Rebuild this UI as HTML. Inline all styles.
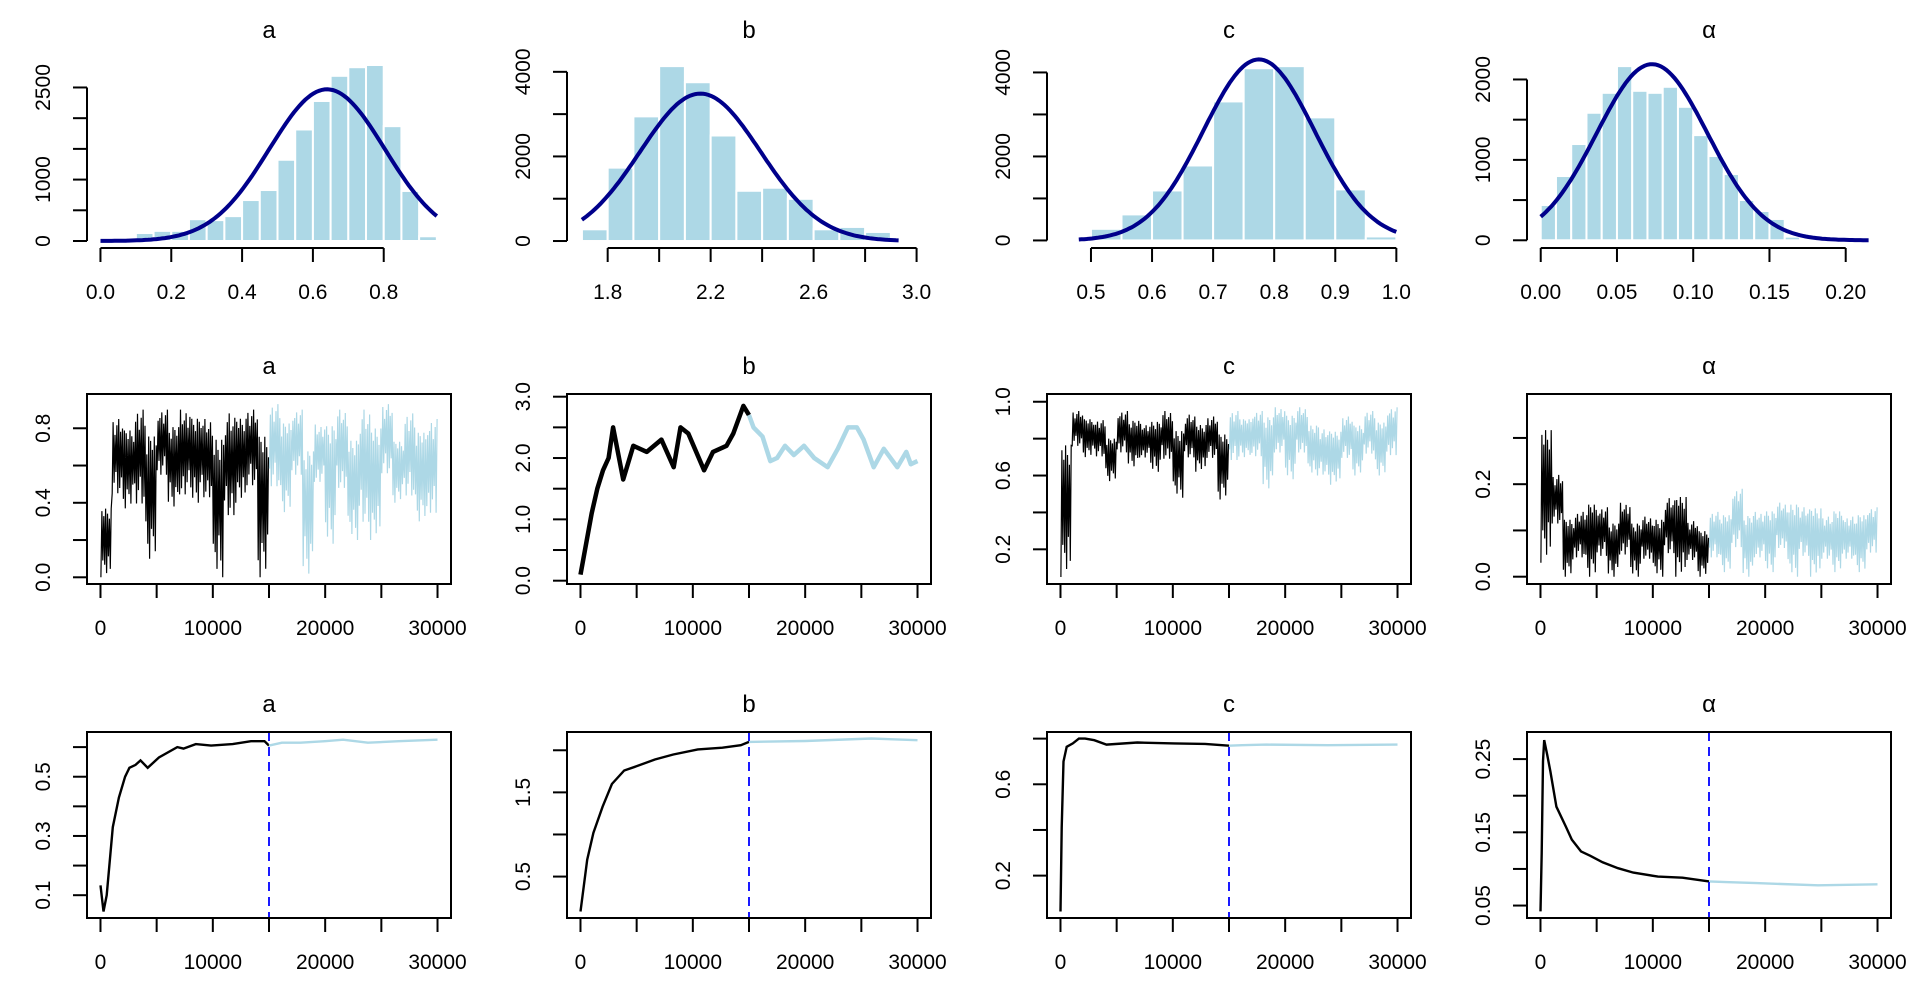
<!DOCTYPE html>
<html><head><meta charset="utf-8">
<style>
html,body{margin:0;padding:0;background:#fff;}
svg{display:block;font-family:"Liberation Sans",Arial,sans-serif;}
</style></head>
<body>
<svg id="fig" width="1920" height="1008" viewBox="0 0 1920 1008" xmlns="http://www.w3.org/2000/svg"></svg>
<script>
// ---------- Histogram data ----------
const histTitles = ["a","b","c","α"];
const histBreakStartA = 0.0, histBinA = 0.05;
const histCountsA = [20,40,130,165,165,355,340,405,667,830,1323,1816,2280,2690,2830,2866,1870,815,77];
const histBreakStartB = 1.7, histBinB = 0.1;
const histCountsB = [277,1735,2947,4135,3754,2495,1188,1260,998,277,333,214];
const histBreakStartC = 0.5, histBinC = 0.05;
const histCountsC = [277,620,1190,1785,3310,4100,4150,2930,1215,95];
const histBreakStartAl = 0.0, histBinAl = 0.01;
const histCountsAl = [439,799,1197,1586,1834,2166,1859,1834,1909,1660,1308,1048,824,501,364,265,45];
// normal curve params: [mean, sd, peak count, from, to]
const curveA = [0.64,0.163,2470,0.0,0.95];
const curveB = [2.16,0.234,3485,1.7,2.93];
const curveC = [0.775,0.091,4310,0.48,1.0];
const curveAl = [0.073,0.0364,2190,0.0,0.215];
const histXTicksA = [0,0.2,0.4,0.6,0.8], histXLabelsA = ["0.0","0.2","0.4","0.6","0.8"];
const histXTicksB = [1.8,2.0,2.2,2.4,2.6,2.8,3.0], histXLabelsB = ["1.8","","2.2","","2.6","","3.0"];
const histXTicksC = [0.5,0.6,0.7,0.8,0.9,1.0], histXLabelsC = ["0.5","0.6","0.7","0.8","0.9","1.0"];
const histXTicksAl = [0,0.05,0.1,0.15,0.2], histXLabelsAl = ["0.00","0.05","0.10","0.15","0.20"];
const histYTicksA = [0,500,1000,1500,2000,2500], histYLabelsA = ["0","","1000","","","2500"];
const histYTicksB = [0,1000,2000,3000,4000], histYLabelsB = ["0","","2000","","4000"];
const histYTicksC = [0,1000,2000,3000,4000], histYLabelsC = ["0","","2000","","4000"];
const histYTicksAl = [0,500,1000,1500,2000], histYLabelsAl = ["0","","1000","","2000"];

// ---------- Trace data (per 1000-iteration bin: low / high) ----------
const iterTicks = [0,5000,10000,15000,20000,25000,30000];
const iterLabels = ["0","","10000","","20000","","30000"];
const burnIn = 15000;
const traceLoA = [0.0,0.28,0.37,0.18,0.1,0.4,0.38,0.25,0.4,0.25,0.0,0.1,0.4,0.32,0.0, 0.3,0.35,0.4,0.02,0.38,0.18,0.3,0.2,0.04,0.2,0.4,0.4,0.25,0.3,0.13];
const traceHiA = [0.45,0.85,0.88,0.9,0.9,0.9,0.9,0.9,0.95,0.85,0.9,0.88,0.95,0.9,0.92, 0.93,0.93,0.9,0.82,0.82,0.95,0.9,0.85,0.9,0.93,0.93,0.8,0.88,0.88,0.85];
const traceIterB = [0,500,1000,1500,2000,2500,2900,3800,4700,5900,7200,8300,8900,9600,11000,11800,13000,13600,14500,15000,15400,16200,16900,17500,18200,19000,19900,20800,22000,22900,23800,24600,25200,26100,27000,28200,29000,29400,30000];
const traceValB = [0.1,0.6,1.1,1.5,1.8,2.0,2.5,1.65,2.2,2.1,2.3,1.85,2.5,2.4,1.8,2.1,2.2,2.4,2.85,2.7,2.5,2.35,1.95,2.0,2.2,2.05,2.2,2.0,1.85,2.15,2.5,2.5,2.3,1.85,2.15,1.85,2.1,1.9,1.95];
const traceLoC = [0.05,0.68,0.7,0.62,0.57,0.63,0.65,0.62,0.62,0.58,0.48,0.6,0.62,0.6,0.47, 0.57,0.7,0.6,0.53,0.62,0.58,0.62,0.6,0.5,0.55,0.6,0.6,0.62,0.6,0.6];
const traceHiC = [0.92,0.95,0.95,0.9,0.85,0.95,0.95,0.88,0.95,0.95,0.92,0.93,0.93,0.92,0.9, 0.95,0.95,0.95,1.0,0.97,1.0,0.97,0.93,0.85,0.9,0.92,0.93,0.95,0.95,0.97];
const traceLoAl = [0.03,0.07,0.0,0.0,0.0,0.0,0.0,0.0,0.0,0.0,0.0,0.0,0.0,0.0,0.0, 0.0,0.01,0.01,0.0,0.0,0.01,0.02,0.0,0.0,0.0,0.0,0.01,0.0,0.01,0.01];
const traceHiAl = [0.38,0.22,0.15,0.14,0.19,0.15,0.14,0.16,0.14,0.13,0.15,0.17,0.21,0.12,0.12, 0.14,0.16,0.19,0.16,0.14,0.17,0.16,0.19,0.15,0.18,0.13,0.17,0.13,0.16,0.15];
const traceYTicksA = [0,0.2,0.4,0.6,0.8], traceYLabelsA = ["0.0","","0.4","","0.8"];
const traceYTicksB = [0,0.5,1,1.5,2,2.5,3], traceYLabelsB = ["0.0","","1.0","","2.0","","3.0"];
const traceYTicksC = [0.2,0.4,0.6,0.8,1.0], traceYLabelsC = ["0.2","","0.6","","1.0"];
const traceYTicksAl = [0,0.1,0.2,0.3], traceYLabelsAl = ["0.0","","0.2",""];

// ---------- Running mean data ----------
const meanIterA = [0,270,550,1100,1640,2190,2570,3120,3560,4200,5200,6840,7390,8480,9850,11770,13400,14600,15000,16150,17800,19980,21600,23800,26550,30000];
const meanValA = [0.133,0.045,0.1,0.33,0.43,0.5,0.53,0.54,0.555,0.53,0.565,0.6,0.595,0.61,0.605,0.61,0.62,0.62,0.605,0.615,0.615,0.62,0.625,0.615,0.62,0.625];
const meanIterB = [0,600,1150,1970,2800,3890,4980,6620,8260,10440,12630,14270,15000,20000,25900,30000];
const meanValB = [0.085,0.7,1.02,1.33,1.6,1.76,1.81,1.89,1.95,2.01,2.03,2.06,2.1,2.11,2.14,2.12];
const meanIterC = [0,110,270,550,1100,1640,2190,3010,4100,6840,10130,12870,15000,16150,18340,23800,30000];
const meanValC = [0.043,0.41,0.7,0.764,0.779,0.8,0.8,0.793,0.774,0.783,0.779,0.777,0.769,0.771,0.774,0.771,0.774];
const meanIterAl = [0,110,220,330,600,880,1420,2250,2790,3610,4430,5530,6900,8260,10450,12640,15000,16480,19220,24700,30000];
const meanValAl = [0.042,0.122,0.247,0.276,0.256,0.233,0.185,0.158,0.14,0.124,0.118,0.109,0.101,0.095,0.0896,0.088,0.083,0.082,0.0807,0.0776,0.079];
const meanYTicksA = [0.1,0.2,0.3,0.4,0.5,0.6], meanYLabelsA = ["0.1","","0.3","","0.5",""];
const meanYTicksB = [0.5,1.0,1.5,2.0], meanYLabelsB = ["0.5","","1.5",""];
const meanYTicksC = [0.2,0.4,0.6,0.8], meanYLabelsC = ["0.2","","0.6",""];
const meanYTicksAl = [0.05,0.10,0.15,0.20,0.25], meanYLabelsAl = ["0.05","","0.15","","0.25"];

// ---------- layout ----------
const NS = "http://www.w3.org/2000/svg";
const svg = document.getElementById("fig");
const colX = [87,567,1047,1527], colW = 364;
const rowTop = [58,394,732], rowH = [190,190,186];
const LB = "#ADD8E6";
function mk(tag, attrs, parent){ const e=document.createElementNS(NS,tag); for(const k in attrs) e.setAttribute(k,attrs[k]); (parent||svg).appendChild(e); return e; }
function scale(d0,d1,r0,r1){ return v => r0 + (v-d0)/(d1-d0)*(r1-r0); }
function title(col,row,txt){
  const t=mk("text",{x:colX[col]+colW/2,y:rowTop[row]-20,"text-anchor":"middle","font-size":24,fill:"#000"});
  
  
  t.textContent=txt;
}
function xAxis(g,sx,y,ticks,labels){
  mk("line",{x1:sx(ticks[0]),x2:sx(ticks[ticks.length-1]),y1:y,y2:y,stroke:"#000","stroke-width":2},g);
  ticks.forEach((v,i)=>{
    mk("line",{x1:sx(v),x2:sx(v),y1:y,y2:y+14,stroke:"#000","stroke-width":2},g);
    if(labels[i]){ const t=mk("text",{x:sx(v),y:y+51,"text-anchor":"middle","font-size":21},g);
      
      
      t.textContent=labels[i]; }
  });
}
function yAxis(g,sy,x,ticks,labels){
  mk("line",{x1:x,x2:x,y1:sy(ticks[0]),y2:sy(ticks[ticks.length-1]),stroke:"#000","stroke-width":2},g);
  ticks.forEach((v,i)=>{
    mk("line",{x1:x-14,x2:x,y1:sy(v),y2:sy(v),stroke:"#000","stroke-width":2},g);
    if(labels[i]){ const yy=sy(v); const t=mk("text",{x:x-37,y:yy,"text-anchor":"middle","font-size":21,transform:`rotate(-90 ${x-37} ${yy})`},g);
      
      
      t.textContent=labels[i]; }
  });
}
function box(g,col,row){
  const b=mk("rect",{x:colX[col],y:rowTop[row],width:colW,height:rowH[row],fill:"none",stroke:"#000","stroke-width":2},g);
  
  
}

// ---------- row 1: histograms ----------
const histCfg = [
 {start:histBreakStartA,bin:histBinA,counts:histCountsA,curve:curveA,xu:[-0.038,0.990],yu:[-114,2980],xt:histXTicksA,xl:histXLabelsA,yt:histYTicksA,yl:histYLabelsA},
 {start:histBreakStartB,bin:histBinB,counts:histCountsB,curve:curveB,xu:[1.642,3.056],yu:[-165,4327],xt:histXTicksB,xl:histXLabelsB,yt:histYTicksB,yl:histYLabelsB},
 {start:histBreakStartC,bin:histBinC,counts:histCountsC,curve:curveC,xu:[0.428,1.024],yu:[-180,4344],xt:histXTicksC,xl:histXLabelsC,yt:histYTicksC,yl:histYLabelsC},
 {start:histBreakStartAl,bin:histBinAl,counts:histCountsAl,curve:curveAl,xu:[-0.009,0.2297],yu:[-96,2267],xt:histXTicksAl,xl:histXLabelsAl,yt:histYTicksAl,yl:histYLabelsAl}
];
histCfg.forEach((c,col)=>{
  const g=mk("g",{});
  
  
  title(col,0,histTitles[col]);
  const sx=scale(c.xu[0],c.xu[1],colX[col],colX[col]+colW);
  const sy=scale(c.yu[0],c.yu[1],rowTop[0]+rowH[0],rowTop[0]);
  c.counts.forEach((n,i)=>{
    const x0=sx(c.start+i*c.bin), x1=sx(c.start+(i+1)*c.bin);
    const r=mk("rect",{x:x0,y:sy(n),width:x1-x0,height:sy(0)-sy(n),fill:LB,stroke:"#fff","stroke-width":2},g);
    
    
  });
  const [m,s,pk,f,t]=c.curve; let d="";
  for(let k=0;k<=120;k++){ const x=f+(t-f)*k/120; const v=pk*Math.exp(-(x-m)*(x-m)/(2*s*s)); d+=(k?"L":"M")+sx(x).toFixed(1)+","+sy(v).toFixed(1); }
  const p=mk("path",{d:d,fill:"none",stroke:"#00008B","stroke-width":4},g);
  
  
  xAxis(g,sx,rowTop[0]+rowH[0],c.xt,c.xl);
  yAxis(g,sy,colX[col],c.yt,c.yl);
});

// ---------- row 2: traces ----------
const sxIter = col => scale(-1200,31200,colX[col],colX[col]+colW);
// rendering texture: fraction of the bin range each sub-step stops short of the extreme
const bandInset = [0,0.35,0.2,0.45,0.15,0.3,0.05,0.4,0.25,0.5,0.1,0.3];
function bandPath(lo,hi,sx,sy,fromBin,toBin){
  let d=""; const S=bandInset.length;
  for(let i=fromBin;i<toBin;i++){
    for(let k=0;k<S;k++){
      const it=(i+(k+0.5)/S)*1000; const r=hi[i]-lo[i]; const w=bandInset[(k+i*5)%S];
      const v=(k%2===0)?lo[i]+r*w:hi[i]-r*w*0.6;
      d+=(d?"L":"M")+sx(it).toFixed(1)+","+sy(v).toFixed(1);
    }
  }
  return d;
}
const traceCfg = [
 {lo:traceLoA,hi:traceHiA,yu:[-0.036,0.984],yt:traceYTicksA,yl:traceYLabelsA},
 {iter:traceIterB,val:traceValB,yu:[-0.054,3.044],yt:traceYTicksB,yl:traceYLabelsB},
 {lo:traceLoC,hi:traceHiC,yu:[0.012,1.042],yt:traceYTicksC,yl:traceYLabelsC},
 {lo:traceLoAl,hi:traceHiAl,yu:[-0.0158,0.395],yt:traceYTicksAl,yl:traceYLabelsAl}
];
traceCfg.forEach((c,col)=>{
  const g=mk("g",{});
  
  
  title(col,1,histTitles[col]);
  const sx=sxIter(col), sy=scale(c.yu[0],c.yu[1],rowTop[1]+rowH[1],rowTop[1]);
  if(c.lo){
    const nb=burnIn/1000;
    const p1=mk("path",{d:bandPath(c.lo,c.hi,sx,sy,0,nb),fill:"none",stroke:"#000","stroke-width":1.2},g);
    
    
    const p2=mk("path",{d:bandPath(c.lo,c.hi,sx,sy,nb,c.lo.length),fill:"none",stroke:LB,"stroke-width":1.2},g);
    
    
  } else {
    let d1="",d2="";
    c.iter.forEach((it,i)=>{
      const pt=sx(it).toFixed(1)+","+sy(c.val[i]).toFixed(1);
      if(it<=burnIn) d1+=(d1?"L":"M")+pt;
      if(it>=burnIn) d2+=(d2?"L":"M")+pt;
    });
    const p1=mk("path",{d:d1,fill:"none",stroke:"#000","stroke-width":4.5,"stroke-linejoin":"round"},g);
    
    
    const p2=mk("path",{d:d2,fill:"none",stroke:LB,"stroke-width":4.5,"stroke-linejoin":"round"},g);
    
    
  }
  box(g,col,1);
  xAxis(g,sx,rowTop[1]+rowH[1],iterTicks,iterLabels);
  yAxis(g,sy,colX[col],c.yt,c.yl);
});

// ---------- row 3: running means ----------
const meanCfg = [
 {iter:meanIterA,val:meanValA,yu:[0.023,0.651],yt:meanYTicksA,yl:meanYLabelsA},
 {iter:meanIterB,val:meanValB,yu:[0.008,2.217],yt:meanYTicksB,yl:meanYLabelsB},
 {iter:meanIterC,val:meanValC,yu:[0.0144,0.829],yt:meanYTicksC,yl:meanYLabelsC},
 {iter:meanIterAl,val:meanValAl,yu:[0.033,0.287],yt:meanYTicksAl,yl:meanYLabelsAl}
];
meanCfg.forEach((c,col)=>{
  const g=mk("g",{});
  
  
  title(col,2,histTitles[col]);
  const sx=sxIter(col), sy=scale(c.yu[0],c.yu[1],rowTop[2]+rowH[2],rowTop[2]);
  let d1="",d2="";
  c.iter.forEach((it,i)=>{
    const pt=sx(it).toFixed(1)+","+sy(c.val[i]).toFixed(1);
    if(it<=burnIn) d1+=(d1?"L":"M")+pt;
    if(it>=burnIn) d2+=(d2?"L":"M")+pt;
  });
  const p1=mk("path",{d:d1,fill:"none",stroke:"#000","stroke-width":2.4},g);
  
  
  const p2=mk("path",{d:d2,fill:"none",stroke:LB,"stroke-width":2.4},g);
  
  
  const v=mk("line",{x1:sx(burnIn),x2:sx(burnIn),y1:rowTop[2],y2:rowTop[2]+rowH[2],stroke:"#0000FF","stroke-width":1.8,"stroke-dasharray":"9,6"},g);
  
  
  box(g,col,2);
  xAxis(g,sx,rowTop[2]+rowH[2],iterTicks,iterLabels);
  yAxis(g,sy,colX[col],c.yt,c.yl);
});
</script>
</body></html>
